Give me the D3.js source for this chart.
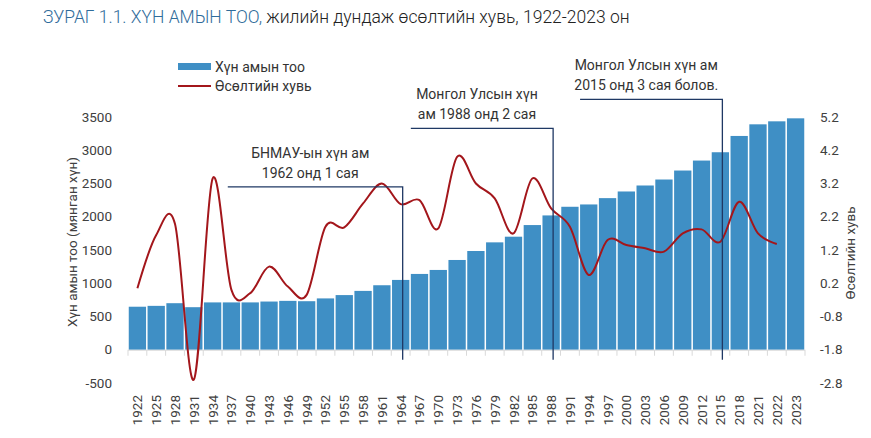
<!DOCTYPE html>
<html><head><meta charset="utf-8">
<script src="https://cdn.jsdelivr.net/npm/d3@7"></script>
<style>
body{margin:0;background:#fff;}
text{font-family:Roboto,"Noto Sans",sans-serif;}
</style></head>
<body><svg id="c" width="871" height="438"></svg>
<script>
const years = ["1922","1925","1928","1931","1934","1937","1940","1943","1946","1949","1952","1955","1958","1961","1964","1967","1970","1973","1976","1979","1982","1985","1988","1991","1994","1997","2000","2003","2006","2009","2012","2015","2018","2021","2022","2023"];
const population = [647,660,700,640,712,712,712,725,735,730,772,822,885,970,1050,1140,1200,1350,1485,1615,1700,1875,2020,2150,2185,2280,2380,2470,2560,2695,2845,2970,3215,3390,3435,3480];
const growth = [0.05,1.65,1.98,-2.7,3.35,0.0,-0.1,0.7,0.1,-0.15,1.9,1.88,2.6,3.2,2.58,2.7,1.85,4.0,3.2,2.75,1.7,3.35,2.45,1.9,0.45,1.5,1.35,1.25,1.15,1.7,1.82,1.45,2.65,1.7,1.38];
const leftTicks = [-500,0,500,1000,1500,2000,2500,3000,3500];
const rightTicks = [-2.8,-1.8,-0.8,0.2,1.2,2.2,3.2,4.2,5.2];
const annotations = [
  {lines:["БНМАУ-ын хүн ам","1962 онд 1 сая"], from:"1937", to:"1964", level:2450},
  {lines:["Монгол Улсын хүн","ам 1988 онд 2 сая"], from:"1967", to:"1988", level:3330},
  {lines:["Монгол Улсын хүн ам","2015 онд 3 сая болов."], from:"1994", to:"2015", level:3765}
];

(function(){
const svg = d3.select("#c");
const pLeft = 128, pRight = 805, pTop = 117, pBottom = 383;
const x = d3.scaleBand().domain(years).range([pLeft, pRight]).paddingInner(0.08).paddingOuter(0.04);
const yL = d3.scaleLinear().domain([-500,3500]).range([pBottom, pTop]);
const yR = d3.scaleLinear().domain([-2.8,5.2]).range([pBottom, pTop]);
const txt = "#404040";

// Title
const title = svg.append("text").attr("x",43).attr("y",23).attr("font-size",17.5).attr("font-weight",300);
title.append("tspan").attr("fill","#2f6c9b").text("ЗУРАГ 1.1. ХҮН АМЫН ТОО,");
title.append("tspan").attr("fill","#222").text(" жилийн дундаж өсөлтийн хувь, 1922-2023 он");

// Bars
svg.append("g").selectAll("rect").data(years).join("rect")
  .attr("x", d=>x(d)).attr("width", x.bandwidth())
  .attr("y", (d,i)=>yL(population[i])).attr("height",(d,i)=>yL(0)-yL(population[i]))
  .attr("fill","#3f8fc5");

// x axis baseline ticks
const bandStep = x.step();
const gap = (bandStep-x.bandwidth())/2;
const tickXs = years.map(d=>x(d)-gap).concat([x(years[years.length-1])+x.bandwidth()+gap]);
svg.append("g").selectAll("line").data(tickXs).join("line")
  .attr("x1",d=>d).attr("x2",d=>d).attr("y1",yL(0)).attr("y2",yL(0)+6)
  .attr("stroke","#d9d9d9").attr("stroke-width",1);
svg.append("line").attr("x1",tickXs[0]).attr("x2",tickXs[tickXs.length-1])
  .attr("y1",yL(0)+0.5).attr("y2",yL(0)+0.5).attr("stroke","#d9d9d9");

// x labels
svg.append("g").selectAll("text").data(years).join("text")
  .attr("transform", d=>`translate(${x(d)+x.bandwidth()/2+5},395) rotate(-90)`)
  .attr("text-anchor","end").attr("font-size",13.5).attr("fill",txt).text(d=>d);

// left ticks
svg.append("g").selectAll("text").data(leftTicks).join("text")
  .attr("x",112).attr("y",d=>yL(d)).attr("dy","0.35em").attr("text-anchor","end")
  .attr("font-size",13.5).attr("fill",txt).text(d=>d);
// right ticks
svg.append("g").selectAll("text").data(rightTicks).join("text")
  .attr("x",820).attr("y",d=>yR(d)).attr("dy","0.35em").attr("text-anchor","start")
  .attr("font-size",13.5).attr("fill",txt).text(d=>d.toFixed(1));

// axis titles
svg.append("text").attr("transform","translate(77,242) rotate(-90)").attr("text-anchor","middle")
  .attr("font-size",13.5).attr("fill",txt).text("Хүн амын тоо (мянган хүн)");
svg.append("text").attr("transform","translate(855,253) rotate(-90)").attr("text-anchor","middle")
  .attr("font-size",13.5).attr("fill",txt).text("Өсөлтийн хувь");

// Line
const line = d3.line().curve(d3.curveCardinal.tension(0))
  .x((d,i)=>x(years[i])+x.bandwidth()/2).y(d=>yR(d));
svg.append("path").datum(growth).attr("d",line).attr("fill","none")
  .attr("stroke","#a3161b").attr("stroke-width",2);

// Annotations
annotations.forEach(a=>{
  const x1 = x(a.from)+ (a.from==="1937"?5:0);
  const x2 = x(a.to)+x.bandwidth()/2+2;
  const yy = yL(a.level);
  svg.append("path").attr("d",`M${x1},${yy}H${x2}V${yL(-150)}`)
    .attr("fill","none").attr("stroke","#1f3864").attr("stroke-width",1.3);
  const cx = (x1+x2)/2-5;
  a.lines.forEach((l,k)=>{
    svg.append("text").attr("x",cx).attr("y",yy-34+k*20+5).attr("text-anchor","middle")
      .attr("font-size",14).attr("fill","#333").text(l);
  });
});

// Legend
svg.append("rect").attr("x",178).attr("y",63).attr("width",33).attr("height",7).attr("fill","#3f8fc5");
svg.append("text").attr("x",215).attr("y",67).attr("dy","0.35em").attr("font-size",14).attr("fill","#333").text("Хүн амын тоо");
svg.append("line").attr("x1",178).attr("x2",211).attr("y1",86).attr("y2",86).attr("stroke","#a3161b").attr("stroke-width",2);
svg.append("text").attr("x",215).attr("y",86).attr("dy","0.35em").attr("font-size",14).attr("fill","#333").text("Өсөлтийн хувь");
})();
</script></body></html>
